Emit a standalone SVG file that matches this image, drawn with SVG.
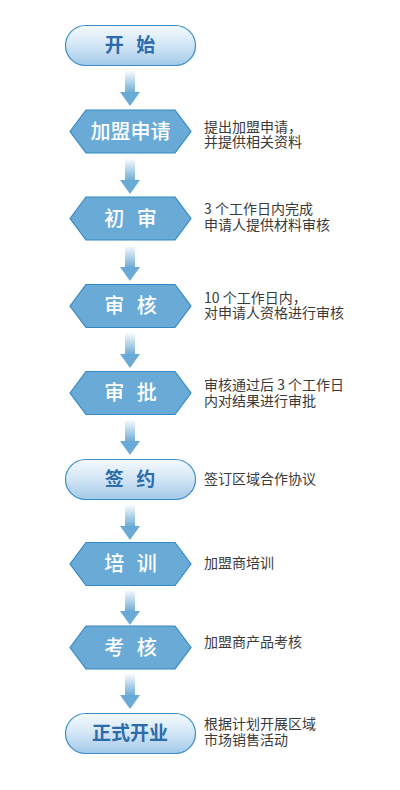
<svg xmlns="http://www.w3.org/2000/svg" width="400" height="790" viewBox="0 0 400 790">
<defs>
<linearGradient id="pillGrad" x1="0" y1="0" x2="0" y2="1">
<stop offset="0" stop-color="#f4f9fd"/>
<stop offset="0.45" stop-color="#d6e8f6"/>
<stop offset="1" stop-color="#a3c9e8"/>
</linearGradient>
<linearGradient id="shaftGrad" x1="0" y1="0" x2="0" y2="1">
<stop offset="0" stop-color="#ffffff"/>
<stop offset="1" stop-color="#6aaad6"/>
</linearGradient>
<symbol id="arrow" overflow="visible">
<rect x="-5" y="0" width="10" height="23" fill="url(#shaftGrad)"/>
<polygon points="-10,22 10,22 0,36" fill="#6aaad6"/>
</symbol>
</defs>
<style>
.pill{fill:url(#pillGrad);stroke:#3a8dc5;stroke-width:1.2}
.hex{fill:#6aaad6;stroke:#3489c3;stroke-width:1.2}
.pt{font-family:"Noto Sans CJK SC","Noto Sans",sans-serif;font-size:19px;font-weight:bold;fill:#2d6cab;text-anchor:middle}
.ht{font-family:"Noto Sans CJK SC","Noto Sans",sans-serif;font-size:20px;font-weight:500;fill:#ffffff;text-anchor:middle}
.d{font-family:"Noto Sans CJK SC","Noto Sans",sans-serif;font-size:14px;fill:#3a3a3a}
</style>
<g id="connectors">
<use href="#arrow" x="130" y="70"/>
<use href="#arrow" x="130" y="158"/>
<use href="#arrow" x="130" y="245"/>
<use href="#arrow" x="130" y="332"/>
<use href="#arrow" x="130" y="419"/>
<use href="#arrow" x="130" y="504"/>
<use href="#arrow" x="130" y="589"/>
<use href="#arrow" x="130" y="673"/>
</g>
<g id="start">
<rect class="pill" x="65.5" y="25.5" width="130" height="40" rx="20"/>
<text class="pt" x="130" y="52" word-spacing="8">开 始</text>
</g>
<g id="apply">
<polygon class="hex" points="70,131.5 86,110 175,110 191,131.5 175,153 86,153"/>
<text class="ht" x="130.5" y="138.5">加盟申请</text>
<text class="d" x="204" y="131.5">提出加盟申请，</text>
<text class="d" x="204" y="147">并提供相关资料</text>
</g>
<g id="prelim">
<polygon class="hex" points="70,218.5 86,197 175,197 191,218.5 175,240 86,240"/>
<text class="ht" x="130.5" y="225.5" word-spacing="8">初 审</text>
<text class="d" x="204" y="214">3 个工作日内完成</text>
<text class="d" x="204" y="229.5">申请人提供材料审核</text>
</g>
<g id="review">
<polygon class="hex" points="70,306 86,284.5 175,284.5 191,306 175,327.5 86,327.5"/>
<text class="ht" x="130.5" y="313" word-spacing="8">审 核</text>
<text class="d" x="204" y="302.5">10 个工作日内，</text>
<text class="d" x="204" y="318">对申请人资格进行审核</text>
</g>
<g id="approve">
<polygon class="hex" points="70,393 86,371.5 175,371.5 191,393 175,414.5 86,414.5"/>
<text class="ht" x="130.5" y="400" word-spacing="8">审 批</text>
<text class="d" x="204" y="390">审核通过后 3 个工作日</text>
<text class="d" x="204" y="405.5">内对结果进行审批</text>
</g>
<g id="sign">
<rect class="pill" x="65.5" y="459.5" width="130" height="40" rx="20"/>
<text class="pt" x="130" y="486" word-spacing="8">签 约</text>
<text class="d" x="204" y="484">签订区域合作协议</text>
</g>
<g id="training">
<polygon class="hex" points="70,564 86,542.5 175,542.5 191,564 175,585.5 86,585.5"/>
<text class="ht" x="130.5" y="571" word-spacing="8">培 训</text>
<text class="d" x="204" y="568">加盟商培训</text>
</g>
<g id="exam">
<polygon class="hex" points="70,647.5 86,626 175,626 191,647.5 175,669 86,669"/>
<text class="ht" x="130.5" y="654.5" word-spacing="8">考 核</text>
<text class="d" x="204" y="647">加盟商产品考核</text>
</g>
<g id="open">
<rect class="pill" x="65.5" y="713.5" width="130" height="40" rx="20"/>
<text class="pt" x="130" y="740">正式开业</text>
<text class="d" x="204" y="729">根据计划开展区域</text>
<text class="d" x="204" y="744.5">市场销售活动</text>
</g>
</svg>
